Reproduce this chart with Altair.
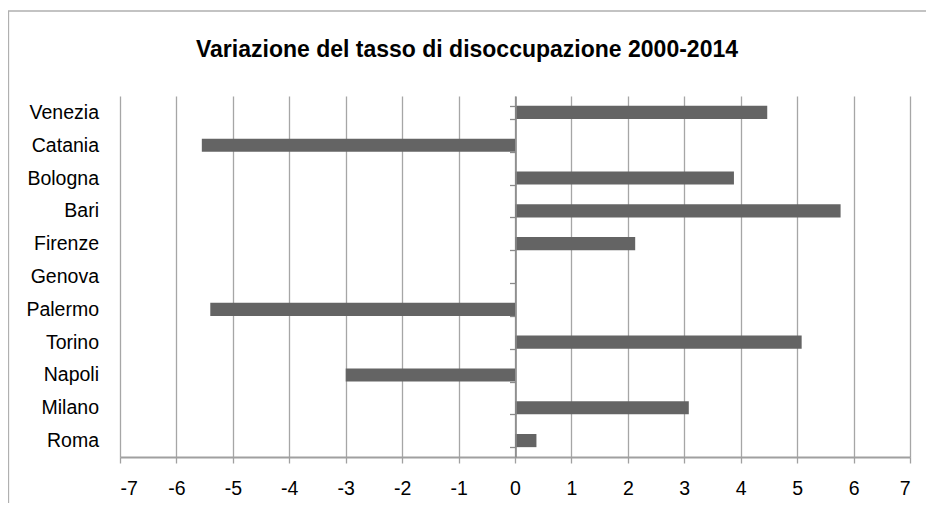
import altair as alt
import pandas as pd

cities = ["Venezia", "Catania", "Bologna", "Bari", "Firenze", "Genova",
          "Palermo", "Torino", "Napoli", "Milano", "Roma"]
values = [4.47, -5.55, 3.88, 5.77, 2.13, 0.02, -5.40, 5.08, -3.00, 3.08, 0.38]
tick_values = list(range(-7, 8))
title_text = "Variazione del tasso di disoccupazione 2000-2014"

df = pd.DataFrame({"citta": cities, "variazione": values})

W, H = 790, 361
FONT = "Liberation Sans"

bars = alt.Chart(df).mark_bar(color="#646464").encode(
    x=alt.X(
        "variazione:Q",
        scale=alt.Scale(domain=[-7, 7], nice=False, zero=False),
        axis=alt.Axis(
            values=tick_values, title=None, grid=True,
            gridColor="#a6a6a6", gridWidth=1.3,
            domainColor="#a0a0a0", domainWidth=2,
            tickColor="#a0a0a0", tickWidth=1.3, tickSize=6,
            labelFontSize=19.5, labelColor="#000000", labelFont=FONT,
            labelPadding=16, labelExpr="'' + datum.value",
        ),
    ),
    y=alt.Y(
        "citta:N", sort=cities,
        scale=alt.Scale(paddingInner=0.6, paddingOuter=0.3),
        axis=alt.Axis(
            title=None, orient="left", offset=-395.5,
            tickBand="extent", tickSize=6, tickColor="#8a8a8a", tickWidth=1.3,
            domainColor="#8a8a8a", domainWidth=1.6,
            labelFontSize=19.5, labelColor="#000000", labelFont=FONT,
            labelPadding=411, zindex=1,
        ),
    ),
)

frame = alt.Chart(alt.Data(values=[{}])).mark_rect(
    fill="transparent", stroke="#b0b0b0", strokeWidth=1.3
).encode(
    x=alt.value(-111.5), x2=alt.value(W + 300),
    y=alt.value(-85), y2=alt.value(H + 300),
)

chart = alt.layer(frame, bars).properties(
    width=W, height=H,
    autosize=alt.AutoSizeParams(type="none"),
    padding={"left": 112, "top": 88, "right": 16, "bottom": 46},
    title=alt.TitleParams(
        title_text, fontSize=23, font=FONT, fontWeight="bold", color="#000000",
        anchor="middle", frame="group", dx=-48, offset=-70, baseline="alphabetic",
    ),
).configure_view(stroke=None)

chart.save("out.html", embed_options={"renderer": "svg", "actions": False})
